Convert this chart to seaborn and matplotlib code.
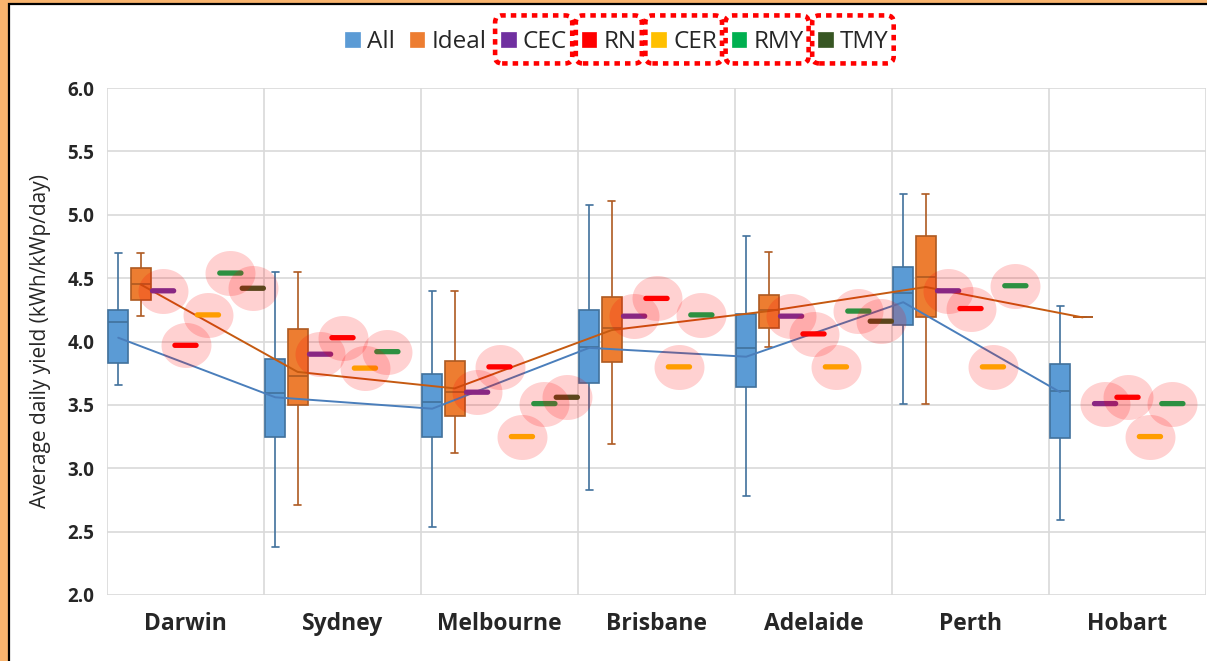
import numpy as np
import pandas as pd
import matplotlib
matplotlib.use("Agg")
import matplotlib.pyplot as plt
import seaborn as sns
from matplotlib.patches import Patch, Rectangle, FancyBboxPatch
from matplotlib.transforms import IdentityTransform
from matplotlib.path import Path

nan = np.nan

cities = ["Darwin", "Sydney", "Melbourne", "Brisbane", "Adelaide", "Perth", "Hobart"]
series_order = ["All", "Ideal", "CEC", "RN", "CER", "RMY", "TMY"]
series_colors = ["#5b9bd5", "#ed7d31", "#7030a0", "#ff0000", "#ffc000", "#00b050", "#375623"]
box_edge_colors = {"All": "#41719c", "Ideal": "#ae5a21"}
mean_line_colors = {"All": "#4a7ebb", "Ideal": "#c55a11"}

# Distribution of measured daily yield (min, Q1, median, Q3, max, mean)
all_min = [3.66, 2.38, 2.54, 2.83, 2.78, 3.51, 2.59]
all_q1 = [3.83, 3.25, 3.25, 3.67, 3.64, 4.13, 3.24]
all_med = [4.15, 3.59, 3.52, 3.96, 3.95, 4.38, 3.61]
all_q3 = [4.25, 3.86, 3.74, 4.25, 4.22, 4.59, 3.82]
all_max = [4.70, 4.55, 4.40, 5.08, 4.83, 5.16, 4.28]
all_mean = [4.03, 3.56, 3.47, 3.95, 3.88, 4.31, 3.60]

ideal_min = [4.20, 2.71, 3.12, 3.19, 3.96, 3.51, 4.19]
ideal_q1 = [4.33, 3.50, 3.41, 3.84, 4.11, 4.19, 4.19]
ideal_med = [4.45, 3.73, 3.60, 4.11, 4.25, 4.51, 4.19]
ideal_q3 = [4.58, 4.10, 3.85, 4.35, 4.37, 4.83, 4.19]
ideal_max = [4.70, 4.55, 4.40, 5.11, 4.71, 5.16, 4.19]
ideal_mean = [4.45, 3.76, 3.63, 4.09, 4.24, 4.43, 4.19]

# Modelled yields from the weather data sets
cec = [4.40, 3.90, 3.60, 4.20, 4.20, 4.40, 3.51]
rn = [3.97, 4.03, 3.80, 4.34, 4.06, 4.26, 3.56]
cer = [4.21, 3.79, 3.25, 3.80, 3.80, 3.80, 3.25]
rmy = [4.54, 3.92, 3.51, 4.21, 4.24, 4.44, 3.51]
tmy = [4.42, nan, 3.56, nan, 4.16, nan, nan]

palette = dict(zip(series_order, series_colors))
n_slots = len(series_order)


def slot_pos(city_idx, series):
    j = series_order.index(series)
    return city_idx - 0.5 + (j + 0.5) / n_slots


# Five-number rows per box: quartiles of five sorted values are exactly q1/q3
box_rows = []
for name, stats in [("All", (all_min, all_q1, all_med, all_q3, all_max)),
                    ("Ideal", (ideal_min, ideal_q1, ideal_med, ideal_q3, ideal_max))]:
    for i, city in enumerate(cities):
        for arr in stats:
            box_rows.append({"city": city, "series": name, "value": arr[i]})
box_df = pd.DataFrame(box_rows)

mean_df = pd.DataFrame(
    [{"series": s, "pos": slot_pos(i, s), "value": m[i]}
     for s, m in [("All", all_mean), ("Ideal", ideal_mean)]
     for i in range(len(cities))]
)

point_rows = []
for s, vals in [("CEC", cec), ("RN", rn), ("CER", cer), ("RMY", rmy), ("TMY", tmy)]:
    for i, v in enumerate(vals):
        if not np.isnan(v):
            point_rows.append({"series": s, "pos": slot_pos(i, s), "value": v})
point_df = pd.DataFrame(point_rows)

sns.set_style("white")
plt.rcParams["font.family"] = ["Open Sans", "DejaVu Sans"]

W, H = 1207, 661
fig = plt.figure(figsize=(W / 100, H / 100), dpi=100)
fig.patch.set_facecolor("#f9b46e")
fig.add_artist(Rectangle((9 / W, -0.05), 1.2, (H - 4) / H + 0.05,
                         transform=fig.transFigure, facecolor="white",
                         edgecolor="black", linewidth=1.6, zorder=-1))

ax = fig.add_axes([107 / W, 66 / H, 1099 / W, 507 / H])

for name in ["All", "Ideal"]:
    sns.boxplot(data=box_df[box_df["series"] == name], x="city", y="value",
                hue="series", hue_order=series_order, order=cities,
                palette=palette, saturation=1, width=1, gap=0.1, dodge=True,
                whis=(0, 100), linecolor=box_edge_colors[name], linewidth=1.2,
                fliersize=0, capwidths=0.045, legend=False, ax=ax)

for name in ["All", "Ideal"]:
    sub = mean_df[mean_df["series"] == name]
    sns.lineplot(data=sub, x="pos", y="value", color=mean_line_colors[name],
                 sort=False, estimator=None, linewidth=1.4, ax=ax, zorder=3)

# rounded dash marker and a slightly flattened halo
t = np.linspace(-np.pi / 2, np.pi / 2, 12)
r = 0.2
right = np.column_stack([0.8 + r * np.cos(t), r * np.sin(t)])
left = np.column_stack([-0.8 - r * np.cos(t), -r * np.sin(t)])
dash_verts = np.vstack([right, left, right[:1]])
dash_marker = Path(dash_verts, closed=True)
th = np.linspace(0, 2 * np.pi, 60)
halo_marker = Path(np.column_stack([np.cos(th), 0.9 * np.sin(th)]), closed=True)

sns.scatterplot(data=point_df, x="pos", y="value", hue="series",
                hue_order=series_order[2:], palette=palette, marker=dash_marker,
                s=360, linewidth=0, legend=False, ax=ax, zorder=5)
sns.scatterplot(data=point_df, x="pos", y="value", color="#ff0000",
                alpha=0.18, marker=halo_marker, s=1296, linewidth=0,
                legend=False, ax=ax, zorder=6)

ax.set_xlim(-0.5, len(cities) - 0.5)
ax.set_ylim(2.0, 6.0)
yt = np.arange(2.0, 6.01, 0.5)
ax.set_yticks(yt)
ax.set_yticklabels([f"{v:.1f}" for v in yt], fontsize=13.5, fontweight="bold")
ax.set_xticks(range(len(cities)))
ax.set_xticklabels(cities, fontsize=16.5, fontweight="bold")
ax.set_xticks(np.arange(-0.5, len(cities), 1.0), minor=True)
ax.tick_params(axis="both", which="both", length=0)
ax.tick_params(axis="y", pad=9)
ax.tick_params(axis="x", pad=12)
ax.grid(False)
ax.xaxis.grid(True, which="minor", color="#d9d9d9", linewidth=1.2)
ax.yaxis.grid(True, which="major", color="#d9d9d9", linewidth=1.2)
ax.set_axisbelow(True)
for sp in ax.spines.values():
    sp.set_visible(False)
ax.set_xlabel("")
ax.set_ylabel("Average daily yield (kWh/kWp/day)", fontsize=15, labelpad=12)

handles = [Patch(facecolor=c, edgecolor=c, linewidth=0.5) for c in series_colors]
leg = fig.legend(handles, series_order, loc="center", ncol=7,
                 bbox_to_anchor=(617 / W, 1 - 42 / H), frameon=False,
                 fontsize=17.5, handlelength=0.6, handleheight=0.6,
                 handletextpad=0.3, columnspacing=0.6)

fig.canvas.draw()
renderer = fig.canvas.get_renderer()
for i in range(2, 7):
    hb = leg.legend_handles[i].get_window_extent(renderer)
    tb = leg.get_texts()[i].get_window_extent(renderer)
    yc = (hb.y0 + hb.y1) / 2
    x0, x1 = hb.x0 - 6, tb.x1 + 5
    box = FancyBboxPatch((x0, yc - 24), x1 - x0, 48,
                         boxstyle="round,pad=0,rounding_size=7", fill=False,
                         edgecolor="#ff0000", linewidth=3.3,
                         linestyle=(0, (1.2, 1.1)), transform=IdentityTransform())
    fig.add_artist(box)

fig.savefig("out.png", dpi=100, facecolor=fig.get_facecolor())
